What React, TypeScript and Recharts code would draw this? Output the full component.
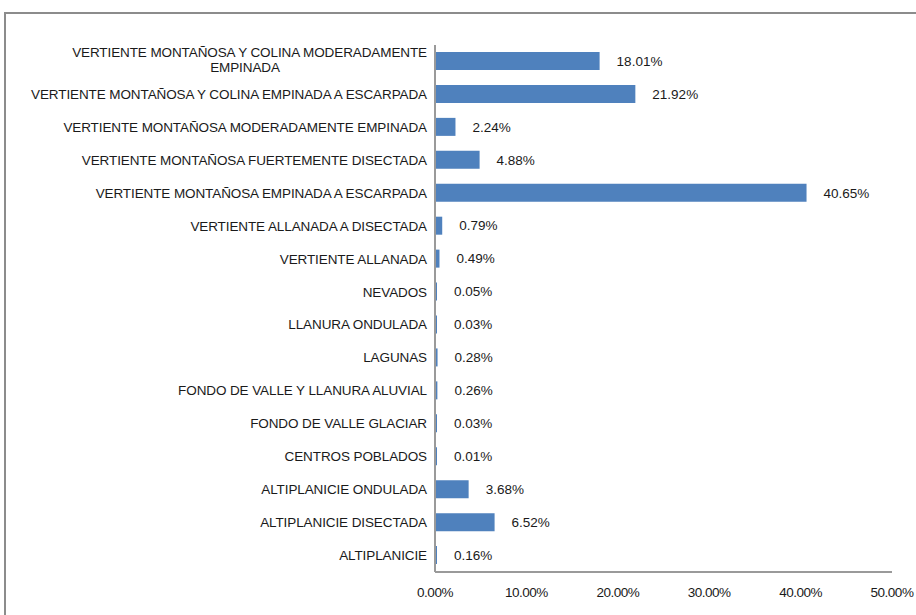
import React from 'react';
import { BarChart, Bar, XAxis, YAxis, LabelList } from 'recharts';

// categories top to bottom
const categories = [
  'VERTIENTE MONTAÑOSA Y COLINA MODERADAMENTE|EMPINADA',
  'VERTIENTE MONTAÑOSA Y COLINA EMPINADA A ESCARPADA',
  'VERTIENTE MONTAÑOSA MODERADAMENTE EMPINADA',
  'VERTIENTE MONTAÑOSA FUERTEMENTE DISECTADA',
  'VERTIENTE MONTAÑOSA EMPINADA A ESCARPADA',
  'VERTIENTE ALLANADA A DISECTADA',
  'VERTIENTE ALLANADA',
  'NEVADOS',
  'LLANURA ONDULADA',
  'LAGUNAS',
  'FONDO DE VALLE Y LLANURA ALUVIAL',
  'FONDO DE VALLE GLACIAR',
  'CENTROS POBLADOS',
  'ALTIPLANICIE ONDULADA',
  'ALTIPLANICIE DISECTADA',
  'ALTIPLANICIE',
];

const percents = [18.01, 21.92, 2.24, 4.88, 40.65, 0.79, 0.49, 0.05, 0.03, 0.28, 0.26, 0.03, 0.01, 3.68, 6.52, 0.16];

const xTicks = [0, 10, 20, 30, 40, 50];

const data = categories.map((name, i) => ({ name, value: percents[i] }));

const FONT = '"Liberation Sans", Arial, sans-serif';
const TEXT = '#1a1a1a';
const AXIS = '#9a9a9a';

const CategoryTick = ({ x, y, payload }: any) => {
  const lines = String(payload.value).split('|');
  if (lines.length === 1) {
    return (
      <text x={x} y={y} dy={4.5} textAnchor="end" fontSize={13.5} fill={TEXT} fontFamily={FONT} letterSpacing={-0.1}>
        {lines[0]}
      </text>
    );
  }
  return (
    <g>
      <text x={x} y={y} dy={-4} textAnchor="end" fontSize={13.5} fill={TEXT} fontFamily={FONT} letterSpacing={-0.1}>
        {lines[0]}
      </text>
      <text x={x - 182} y={y} dy={11} textAnchor="middle" fontSize={13.5} fill={TEXT} fontFamily={FONT} letterSpacing={-0.1}>
        {lines[1]}
      </text>
    </g>
  );
};

const PercentTick = ({ x, y, payload }: any) => (
  <text x={x} y={y} dy={17} textAnchor="middle" fontSize={13.5} fill={TEXT} fontFamily={FONT} letterSpacing={-0.5}>
    {payload.value.toFixed(2) + '%'}
  </text>
);

export default function App() {
  return (
    <div style={{ position: 'absolute', left: 0, top: 0, width: 916, height: 615, overflow: 'hidden', background: '#fff' }}>
      <div
        style={{
          position: 'absolute',
          left: 4,
          top: 12,
          width: 940,
          height: 640,
          border: '2px solid #8c8c8c',
          boxSizing: 'border-box',
        }}
      />
      <div style={{ position: 'absolute', left: 0, top: 0 }}>
        <BarChart
          width={916}
          height={615}
          data={data}
          layout="vertical"
          margin={{ top: 45, right: 24, bottom: 0, left: 0 }}
        >
          <XAxis
            type="number"
            domain={[0, 50]}
            ticks={xTicks}
            interval={0}
            tickLine={false}
            axisLine={{ stroke: AXIS, strokeWidth: 2 }}
            tick={<PercentTick />}
            height={43}
          />
          <YAxis
            type="category"
            dataKey="name"
            width={435}
            interval={0}
            tickLine={false}
            axisLine={{ stroke: AXIS, strokeWidth: 2 }}
            tick={<CategoryTick />}
          />
          <Bar dataKey="value" fill="#4f81bd" barSize={18} minPointSize={2} isAnimationActive={false}>
            <LabelList
              dataKey="value"
              position="right"
              offset={17}
              formatter={(v: any) => Number(v).toFixed(2) + '%'}
              style={{ fontSize: 13.5, fill: TEXT, fontFamily: FONT }}
            />
          </Bar>
        </BarChart>
      </div>
    </div>
  );
}
